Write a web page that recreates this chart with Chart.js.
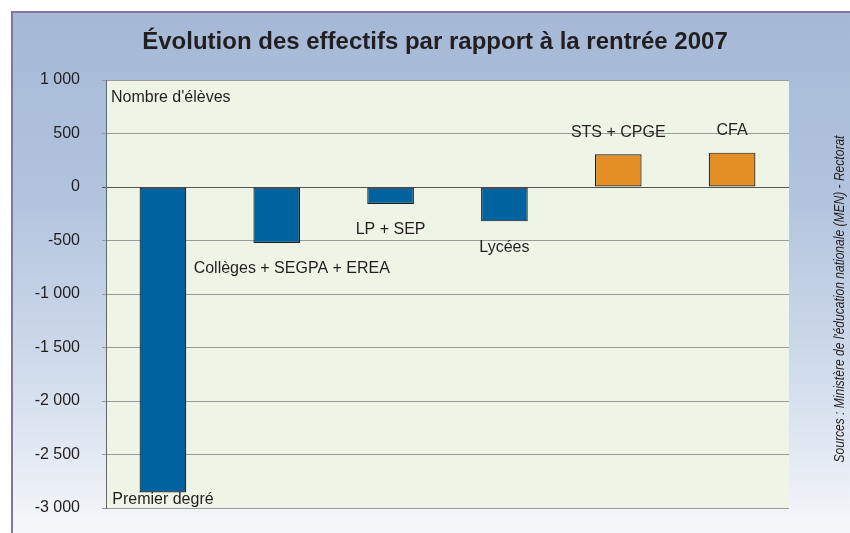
<!DOCTYPE html>
<html lang="fr">
<head>
<meta charset="utf-8">
<title>Évolution des effectifs par rapport à la rentrée 2007</title>
<script src="https://cdn.jsdelivr.net/npm/chart.js@4.4.1/dist/chart.umd.min.js"></script>
<style>
  html, body { margin: 0; padding: 0; background: #fff; }
  body { width: 850px; height: 533px; position: relative; overflow: hidden; }
  #frame {
    position: absolute; left: 11px; top: 11px; width: 839px; height: 522px;
    border-top: 2px solid #8672a6; border-left: 2px solid #8672a6;
    background: linear-gradient(to bottom, #a5b9d7 0%, #b1c3dd 35%, #d4deed 72%, #f6f8fb 100%);
  }
  #chart { position: absolute; left: 0; top: 0; }
</style>
</head>
<body>
<div id="frame"></div>
<canvas id="chart" width="850" height="533"></canvas>
<script>
// data
const CATEGORIES = ['Premier degré', 'Collèges + SEGPA + EREA', 'LP + SEP', 'Lycées', 'STS + CPGE', 'CFA'];
const VALUES = [-2855, -523, -159, -321, 305, 321];
const Y_TICKS = [1000, 500, 0, -500, -1000, -1500, -2000, -2500, -3000];

const TITLE = 'Évolution des effectifs par rapport à la rentrée 2007';
const UNIT_LABEL = "Nombre d'élèves";
const SOURCE = "Sources : Ministère de l'éducation nationale (MEN) - Rectorat";

const BLUE = '#00629e';
const ORANGE = '#e38f25';
const TEXT = '#231f20';
const FONT = '"Liberation Sans", Arial, Helvetica, sans-serif';

// "1 000" style thousands
const fmt = (v) => {
  const s = String(Math.abs(v)).replace(/\B(?=(\d{3})+(?!\d))/g, ' ');
  return (v < 0 ? '-' : '') + s;
};

const decor = {
  id: 'decor',
  beforeDraw(chart) {
    const { ctx, chartArea: a } = chart;
    ctx.save();
    ctx.fillStyle = '#eff5e6';
    ctx.fillRect(a.left, a.top, a.right - a.left, a.bottom - a.top);
    ctx.restore();
  },
  afterDatasetsDraw(chart, args, opts) {
    const { ctx, chartArea: a } = chart;
    const meta = chart.getDatasetMeta(0);
    ctx.save();
    ctx.fillStyle = TEXT;
    ctx.font = '16px ' + FONT;
    ctx.textBaseline = 'middle';

    // bar labels, just past the end of each bar
    ctx.textAlign = 'center';
    meta.data.forEach((bar, i) => {
      const v = VALUES[i];
      let y = v < 0 ? bar.y + 26 : bar.y - 22;
      y = Math.min(Math.max(y, a.top + 10), a.bottom - 8);
      ctx.fillText(CATEGORIES[i], bar.x + (opts.labelDx[i] || 0), y);
    });

    // unit label in the top-left corner of the plot
    ctx.textAlign = 'left';
    ctx.fillText(UNIT_LABEL, a.left + 5, a.top + 18);

    // title
    ctx.textAlign = 'center';
    ctx.font = 'bold 24px ' + FONT;
    ctx.fillText(TITLE, 435, 42);

    // vertical source note on the right (condensed like the original)
    ctx.font = 'italic 14px ' + FONT;
    ctx.translate(840, 299);
    ctx.rotate(-Math.PI / 2);
    ctx.scale(0.86, 1);
    ctx.fillText(SOURCE, 0, 0);
    ctx.restore();
  }
};

new Chart(document.getElementById('chart'), {
  type: 'bar',
  data: {
    labels: CATEGORIES,
    datasets: [{
      data: VALUES,
      backgroundColor: VALUES.map((v) => (v < 0 ? BLUE : ORANGE)),
      borderColor: '#1e1e1e',
      borderWidth: 1.2,
      borderSkipped: false,
      categoryPercentage: 1,
      barPercentage: 0.41,
    }],
  },
  options: {
    responsive: false,
    animation: false,
    layout: { padding: { left: 0, top: 80, right: 61, bottom: 25 } },
    plugins: {
      legend: { display: false },
      tooltip: { enabled: false },
      title: { display: false },
      decor: { labelDx: [0, 15, 0, 0, 0, 0] },
    },
    scales: {
      x: {
        display: false,
        ticks: { display: false },
        grid: { display: false, drawTicks: false },
        border: { display: false },
      },
      y: {
        min: -3000,
        max: 1000,
        afterBuildTicks: (scale) => { scale.ticks = Y_TICKS.map((value) => ({ value })); },
        afterFit: (scale) => {
          scale.width = 106;
          // tick padding would otherwise push the plot bottom up
          scale.paddingTop = 10;
          scale.paddingBottom = 10;
        },
        ticks: {
          color: TEXT,
          font: { family: FONT, size: 16 },
          padding: 22,
          callback: (v) => fmt(v),
        },
        grid: {
          color: (c) => (c.tick && c.tick.value === 0 ? '#555' : '#9a9a9a'),
          lineWidth: 1,
          tickLength: 4,
        },
        border: { color: '#666', width: 1 },
      },
    },
  },
  plugins: [decor],
});
</script>
</body>
</html>
